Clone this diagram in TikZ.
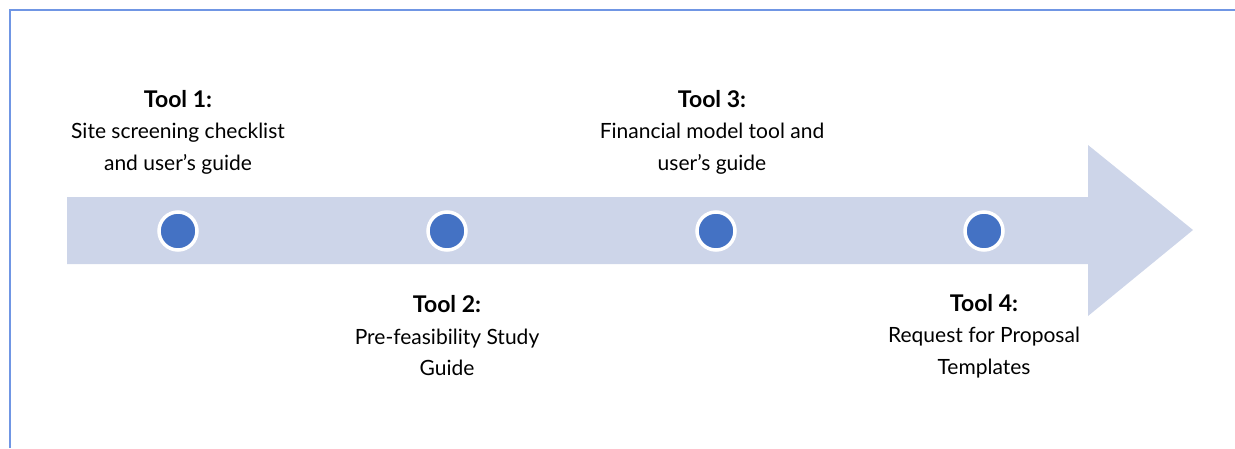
\documentclass[tikz,border=0pt]{standalone}
\usepackage{fontspec}
\setmainfont{Lato}
\definecolor{arrowfill}{RGB}{205,213,233}
\definecolor{dotblue}{RGB}{68,114,196}
\definecolor{framecol}{RGB}{112,150,228}
\begin{document}
\begin{tikzpicture}[x=1pt,y=-1pt,
  dot/.style={circle,fill=dotblue,draw=white,line width=3.5pt,minimum size=38pt,inner sep=0pt},
  label/.style={align=center,inner sep=0pt,font=\fontsize{21}{31.5}\selectfont},
  ttl/.style={}]
\useasboundingbox (0,0) rectangle (1235,448);
% frame
\draw[framecol,line width=1.8pt] (10,448) -- (10,10) -- (1235,10);
% arrow
\fill[arrowfill] (67,197) -- (1088,197) -- (1088,145) -- (1193,230) -- (1088,316) -- (1088,264) -- (67,264) -- cycle;
% dots
\node[dot] (d1) at (178,231) {};
\node[dot] (d2) at (447,231) {};
\node[dot] (d3) at (716,231) {};
\node[dot] (d4) at (984,231) {};
% labels
\node[label] (t1) at (178,132) {{\fontsize{23}{31.5}\selectfont\bfseries Tool 1:}\\Site screening checklist\\and user’s guide};
\node[label] (t2) at (447,336) {{\fontsize{23}{31.5}\selectfont\bfseries Tool 2:}\\Pre-feasibility Study\\Guide};
\node[label] (t3) at (712,132) {{\fontsize{23}{31.5}\selectfont\bfseries Tool 3:}\\Financial model tool and\\user’s guide};
\node[label] (t4) at (984,336) {{\fontsize{23}{31.5}\selectfont\bfseries Tool 4:}\\Request for Proposal\\Templates};
\end{tikzpicture}
\end{document}
